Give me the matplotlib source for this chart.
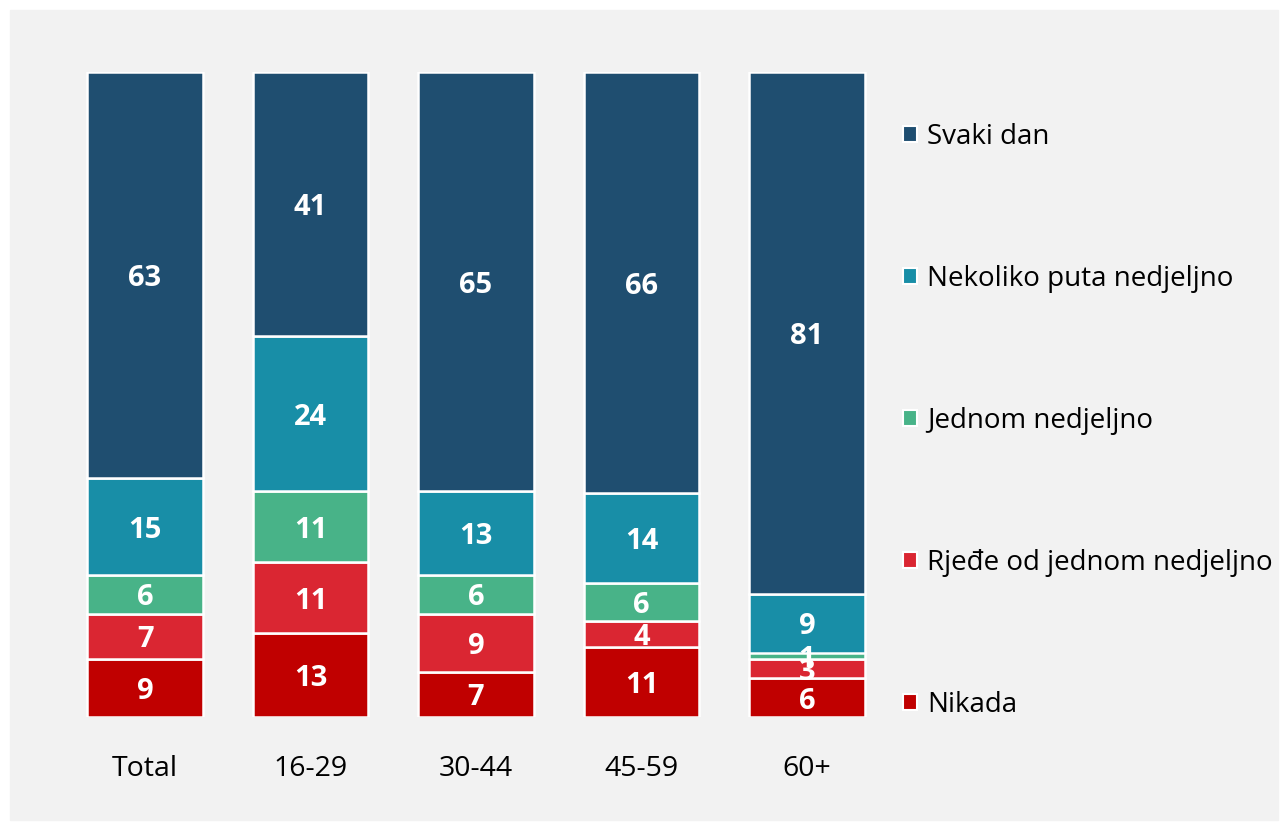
import matplotlib.pyplot as plt
from matplotlib.patches import Patch
import numpy as np

plt.rcParams['font.family'] = ['Open Sans', 'DejaVu Sans']

groups = ['Total', '16-29', '30-44', '45-59', '60+']
series = ['Nikada', 'Rjeđe od jednom nedjeljno', 'Jednom nedjeljno',
          'Nekoliko puta nedjeljno', 'Svaki dan']
nikada = [9, 13, 7, 11, 6]
rjede = [7, 11, 9, 4, 3]
jednom = [6, 11, 6, 6, 1]
nekoliko = [15, 24, 13, 14, 9]
svaki = [63, 41, 65, 66, 81]
colors = ['#C00000', '#DA2632', '#48B388', '#188EA7', '#1F4E70']

values = np.array([nikada, rjede, jednom, nekoliko, svaki], dtype=float)
totals = values.sum(axis=0)
shares = values / totals * 100

W, H = 1288, 830
fig = plt.figure(figsize=(W / 100, H / 100), dpi=100)
fig.patch.set_facecolor('white')
# grey panel
fig.add_artist(plt.Rectangle((10 / W, 10 / H), 1268 / W, 810 / H,
                             transform=fig.transFigure, color='#F2F2F2', zorder=0))

ax = fig.add_axes([62.25 / W, 113 / H, 827.5 / W, 645 / H])
ax.set_facecolor('none')
x = np.arange(len(groups))
bottom = np.zeros(len(groups))
for i, name in enumerate(series):
    ax.bar(x, shares[i], 0.70, bottom=bottom, color=colors[i],
           edgecolor='white', linewidth=1.8, label=name)
    for j in range(len(groups)):
        ax.text(x[j], bottom[j] + shares[i][j] / 2, f'{int(values[i][j])}',
                ha='center', va='center_baseline', color='white', fontsize=21,
                fontweight='bold')
    bottom += shares[i]

ax.set_xlim(-0.5, len(groups) - 0.5)
ax.set_ylim(0, 100)
ax.set_yticks([])
ax.set_xticks(x)
ax.set_xticklabels(groups, fontsize=20.5)
ax.tick_params(axis='x', length=0, pad=27)
for s in ax.spines.values():
    s.set_visible(False)

handles = [Patch(facecolor=colors[i], edgecolor='white', linewidth=1.5)
           for i in range(len(series))][::-1]
fig.legend(handles, series[::-1], loc='center left',
           bbox_to_anchor=(878 / W, 1 - 421 / H), frameon=False,
           fontsize=20, labelspacing=4.1, handlelength=0.5,
           handleheight=0.5, handletextpad=0.36)

fig.savefig('out.png', dpi=100)
